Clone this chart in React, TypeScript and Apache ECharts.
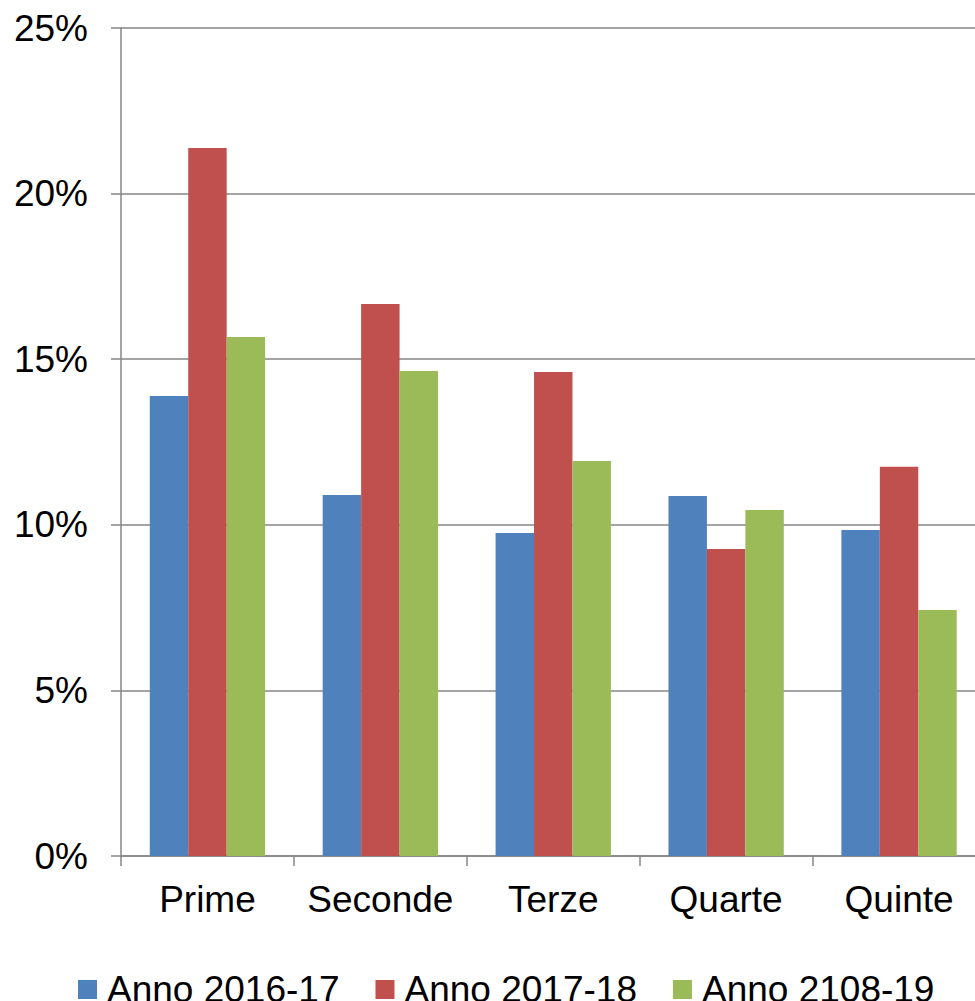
import React, { useEffect, useRef } from "react";
import * as echarts from "echarts";

const categories = ["Prime", "Seconde", "Terze", "Quarte", "Quinte"];
const seriesNames = ["Anno 2016-17", "Anno 2017-18", "Anno 2108-19"];
const anno1617 = [13.89, 10.9, 9.75, 10.87, 9.84];
const anno1718 = [21.38, 16.67, 14.61, 9.27, 11.75];
const anno1819 = [15.67, 14.64, 11.93, 10.45, 7.43];
const colors = ["#4F81BD", "#C0504D", "#9BBB59"];

export default function App() {
  const ref = useRef<HTMLDivElement>(null);
  useEffect(() => {
    if (!ref.current) return;
    const chart = echarts.init(ref.current, undefined, { renderer: "svg" });
    const font = "'Liberation Sans', Arial, sans-serif";
    const data = [anno1617, anno1718, anno1819];
    chart.setOption({
      animation: false,
      textStyle: { fontFamily: font },
      grid: { left: 121, top: 28, right: 4.5, bottom: 145 },
      legend: {
        top: 971,
        left: 78,
        padding: 0,
        itemWidth: 19,
        itemHeight: 19,
        itemGap: 36,
        icon: "rect",
        textStyle: { fontSize: 37, lineHeight: 30, color: "#000", fontFamily: font, padding: [0, 0, 0, 5] },
        data: seriesNames,
      },
      xAxis: {
        type: "category",
        data: categories,
        axisLine: { show: true, lineStyle: { color: "#868686", width: 1.5 } },
        axisTick: { show: true, length: 10, interval: 0, lineStyle: { color: "#868686", width: 1.5 } },
        axisLabel: { fontSize: 37, color: "#000", margin: 25, fontFamily: font, interval: 0 },
      },
      yAxis: {
        type: "value",
        min: 0,
        max: 25,
        interval: 5,
        axisLine: { show: true, lineStyle: { color: "#868686", width: 1.5 } },
        axisTick: { show: true, length: 10, lineStyle: { color: "#868686", width: 1.5 } },
        axisLabel: { fontSize: 37, color: "#000", margin: 33, formatter: "{value}%", fontFamily: font },
        splitLine: { show: true, lineStyle: { color: "#868686", width: 1.5 } },
      },
      series: seriesNames.map((name, i) => ({
        name,
        type: "bar",
        data: data[i],
        barGap: "0%",
        barCategoryGap: "33.3%",
        itemStyle: { color: colors[i] },
      })),
    });
    return () => chart.dispose();
  }, []);
  return (
    <div
      style={{ position: "fixed", left: 0, top: 0, width: 975, height: 1001, overflow: "hidden", background: "#fff" }}
    >
      <div ref={ref} style={{ width: 990, height: 1001 }} />
    </div>
  );
}
